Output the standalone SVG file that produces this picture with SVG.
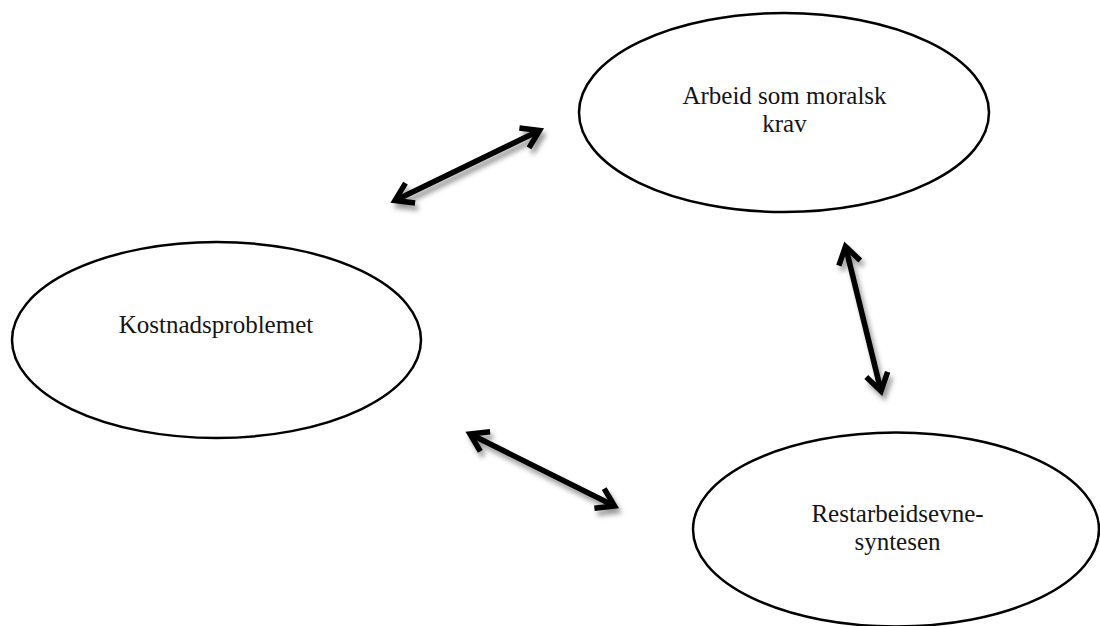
<svg xmlns="http://www.w3.org/2000/svg" width="1100" height="626" viewBox="0 0 1100 626">
  <style>
    .node ellipse { fill: #ffffff; stroke: #000000; stroke-width: 2.5; }
    .label { font-family: "Liberation Serif", "Times New Roman", serif; font-size: 25px; fill: #141414; text-anchor: middle; }
    .conn { stroke: #000000; stroke-width: 5.5; fill: none; marker-start: url(#head); marker-end: url(#head); }
  </style>
  <defs>
    <marker id="head" markerUnits="userSpaceOnUse" viewBox="-30 -20 40 40" refX="0" refY="0" markerWidth="40" markerHeight="40" orient="auto-start-reverse" overflow="visible">
      <path d="M -17,-11 L 0,0 L -17,11" fill="none" stroke="#000000" stroke-width="5.5" stroke-linejoin="miter" stroke-linecap="butt"/>
    </marker>
    <filter id="shadow" x="-20%" y="-20%" width="140%" height="140%">
      <feDropShadow dx="3" dy="5" stdDeviation="2.5" flood-color="#000000" flood-opacity="0.4"/>
    </filter>
  </defs>
  <rect x="0" y="0" width="1100" height="626" fill="#ffffff"/>

  <g id="node-arbeid" class="node">
    <ellipse cx="784" cy="112.5" rx="205" ry="99.5"/>
    <text class="label" x="784.5" y="104">Arbeid som moralsk</text>
    <text class="label" x="784.5" y="132">krav</text>
  </g>

  <g id="node-kostnad" class="node">
    <ellipse cx="216.5" cy="340" rx="204.5" ry="98"/>
    <text class="label" x="216" y="333">Kostnadsproblemet</text>
  </g>

  <g id="node-restarbeid" class="node">
    <ellipse cx="896" cy="529.5" rx="203" ry="97"/>
    <text class="label" x="897.5" y="522">Restarbeidsevne-</text>
    <text class="label" x="897.5" y="550">syntesen</text>
  </g>

  <g id="connectors" filter="url(#shadow)">
    <line class="conn" x1="395" y1="200.5" x2="539.5" y2="130.5"/>
    <line class="conn" x1="845.5" y1="246.5" x2="881" y2="391"/>
    <line class="conn" x1="470" y1="434" x2="614.5" y2="506"/>
  </g>
</svg>
